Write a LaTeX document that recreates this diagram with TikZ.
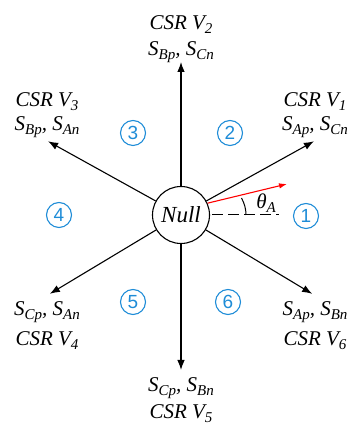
\documentclass[tikz,border=0pt]{standalone}
\usepackage{fontspec}
\setmainfont{Liberation Serif}
\newfontfamily\numfont{Liberation Sans}
\usetikzlibrary{arrows.meta}
\definecolor{numblue}{RGB}{30,140,215}
\newcommand{\sbx}[1]{\raisebox{-4pt}{\fontsize{15}{15}\selectfont #1}}
\begin{document}
\begin{tikzpicture}[x=1pt,y=1pt,
  lbl/.style={font=\fontsize{21}{#1}\selectfont\itshape, align=center, inner sep=0pt},
  num/.style={circle, draw=numblue, text=numblue, line width=1.1pt, minimum size=25pt, inner sep=0pt, font=\numfont\fontsize{19}{19}\selectfont},
  arr/.style={line width=1.1pt, -{Latex[length=10pt,width=7.5pt]}},
  redarr/.style={red, line width=1.1pt, -{Latex[length=8pt,width=5.5pt]}}]
\useasboundingbox (0,0) rectangle (350,427);
\node[circle, draw, line width=1.1pt, minimum size=57pt, inner sep=0pt, font=\fontsize{23}{23}\selectfont\itshape] (c) at (181,212) {Null};
\path (c.center) ++(90:153) coordinate (t2);
\path (c.center) ++(270:155) coordinate (t5);
\path (c.center) ++(29:152) coordinate (t1);
\path (c.center) ++(151:152) coordinate (t3);
\path (c.center) ++(211:153) coordinate (t4);
\path (c.center) ++(329:153) coordinate (t6);
\foreach \t in {t1,t2,t3,t4,t5,t6} \draw[arr] (c) -- (\t);
\node[lbl=26] (l2) at (181,388) {CSR V\sbx{2}\\S\sbx{Bp}, S\sbx{Cn}};
\node[lbl=24] (l1) at (315,312) {CSR V\sbx{1}\\S\sbx{Ap}, S\sbx{Cn}};
\node[lbl=24] (l3) at (47,312) {CSR V\sbx{3}\\S\sbx{Bp}, S\sbx{An}};
\node[lbl=30] (l4) at (47,101) {S\sbx{Cp}, S\sbx{An}\\CSR V\sbx{4}};
\node[lbl=30] (l6) at (315,101) {S\sbx{Ap}, S\sbx{Bn}\\CSR V\sbx{6}};
\node[lbl=27] (l5) at (181,27) {S\sbx{Cp}, S\sbx{Bn}\\CSR V\sbx{5}};
\node[num] (n1) at (306,211) {1};
\node[num] (n2) at (230,294) {2};
\node[num] (n3) at (133,294) {3};
\node[num] (n4) at (59,212) {4};
\node[num] (n5) at (133,125) {5};
\node[num] (n6) at (228,125) {6};
\coordinate (r) at (287,243);
\draw[redarr] (c.24) -- (r);
\coordinate (d0) at (212,212);
\coordinate (d1) at (279,212);
\draw[line width=1pt, dash pattern=on 11pt off 5pt] (d0) -- (d1);
\draw[line width=1pt] (d0) ++(0:34) arc[start angle=0, end angle=30, radius=34];
\node[font=\fontsize{21}{21}\selectfont\itshape, inner sep=0pt] (th) at (266,224) {θ\sbx{A}};
\end{tikzpicture}
\end{document}
